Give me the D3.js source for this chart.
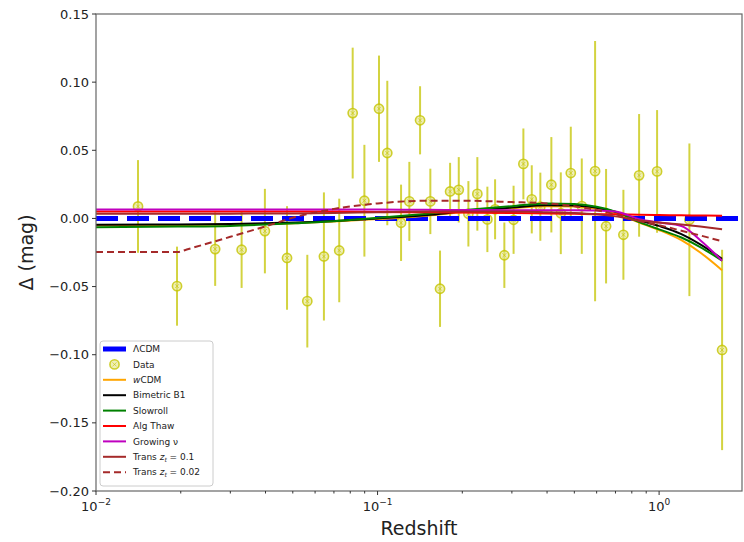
<!DOCTYPE html>
<html>
<head>
<meta charset="utf-8">
<script src="https://cdn.jsdelivr.net/npm/d3@7"></script>
<style>
  body { margin: 0; background: #fff; }
  svg { display: block; font-family: 'DejaVu Sans', sans-serif; }
</style>
</head>
<body>
<script>
// DATA POINTS //
const zData = [0.0141, 0.0194, 0.0265, 0.0329, 0.0398, 0.0477, 0.0563, 0.0645, 0.0731, 0.0816,
    0.0898, 0.1012, 0.1083, 0.1212, 0.1297, 0.1416, 0.1540, 0.1667, 0.1810, 0.1943,
    0.2102, 0.2262, 0.2455, 0.2615, 0.2821, 0.3042, 0.3296, 0.3530, 0.3786, 0.4143,
    0.4476, 0.4857, 0.5314, 0.5925, 0.6482, 0.7468, 0.8492, 0.9837, 1.2813, 1.674];
const deltaData = [0.0088, -0.0497, -0.0225, -0.023, -0.0093, -0.029, -0.0607, -0.0279, -0.0235, 0.0773,
    0.013, 0.0805, 0.048, -0.0032, 0.0125, 0.072, 0.0125, -0.0516, 0.0198, 0.021,
    0.0034, 0.018, -0.0007, 0.0067, -0.027, -0.001, 0.040, 0.014, 0.0086, 0.0247,
    0.0038, 0.0333, 0.009, 0.0347, -0.0057, -0.012, 0.0316, 0.0345, -0.001, -0.0965];
const errData = [0.034, 0.029, 0.027, 0.028, 0.031, 0.038, 0.034, 0.047, 0.038, 0.048,
    0.041, 0.039, 0.053, 0.028, 0.029, 0.025, 0.024, 0.028, 0.021, 0.024,
    0.024, 0.027, 0.024, 0.022, 0.024, 0.025, 0.026, 0.025, 0.025, 0.035,
    0.03, 0.034, 0.035, 0.0955, 0.042, 0.033, 0.045, 0.045, 0.056, 0.0735];

// MODEL CURVES //
const zLcdm = [0.01, 1.93];
const lcdm = [0, 0];
const zModel = [0.01, 0.0195, 0.03, 0.04, 0.051, 0.07, 0.1, 0.15, 0.2, 0.3,
    0.4, 0.5, 0.6, 0.7, 0.85, 1.0, 1.2, 1.4, 1.674];
const wcdm = [-0.005, -0.0048, -0.0045, -0.004, -0.0035, -0.0022, -0.0005, 0.002, 0.0045, 0.0075,
    0.009, 0.0088, 0.007, 0.0038, -0.003, -0.0085, -0.016, -0.025, -0.038];
const bimetric = [-0.0046, -0.0044, -0.004, -0.0035, -0.003, -0.0018, 0.0, 0.0025, 0.005, 0.008,
    0.0097, 0.0095, 0.0078, 0.0048, -0.0013, -0.0055, -0.0115, -0.019, -0.0296];
const slowroll = [-0.0064, -0.006, -0.0055, -0.0045, -0.0035, -0.002, 0.0005, 0.0035, 0.006, 0.009,
    0.011, 0.0105, 0.0085, 0.005, -0.0027, -0.008, -0.014, -0.021, -0.031];
const algThaw = [0.005, 0.005, 0.005, 0.005, 0.005, 0.005, 0.0048, 0.0045, 0.0043, 0.004,
    0.0037, 0.0034, 0.0031, 0.003, 0.0027, 0.0025, 0.0023, 0.0021, 0.002];
const growingNu = [0.0066, 0.0066, 0.0066, 0.0066, 0.0066, 0.0066, 0.0065, 0.0063, 0.0062, 0.006,
    0.006, 0.006, 0.0058, 0.005, -0.0005, -0.003, -0.0055, -0.016, -0.031];
const trans01 = [0.0034, 0.0034, 0.0035, 0.0036, 0.0037, 0.004, 0.0045, 0.005, 0.005, 0.005,
    0.0045, 0.004, 0.003, 0.0015, -0.0015, -0.003, -0.0045, -0.006, -0.008];
// z_t = 0.02 has its own grid (kink at the transition)
const zTrans = [0.01, 0.0195, 0.021, 0.03, 0.04, 0.051, 0.07, 0.1, 0.15, 0.2, 0.3,
    0.4, 0.5, 0.6, 0.7, 0.85, 1.0, 1.2, 1.4, 1.674];
const trans002 = [-0.0247, -0.0247, -0.0228, -0.0135, -0.0058, 0.001, 0.007, 0.011, 0.013, 0.013, 0.012,
    0.011, 0.009, 0.006, 0.003, -0.002, -0.005, -0.009, -0.0125, -0.0167];

const yTicks = [0.15, 0.10, 0.05, 0.00, -0.05, -0.10, -0.15, -0.20];
const xTicks = [0.01, 0.1, 1];
const xTickLabels = ['\u22122', '\u22121', '0'];

// Dimensions of the graph
const W = 744, H = 542;
const margin = { top: 14, right: 2, bottom: 51, left: 96 };
const width = W - margin.left - margin.right,
    height = H - margin.top - margin.bottom;

const svgRoot = d3.select('body').append('svg')
    .attr('width', W)
    .attr('height', H);

const svg = svgRoot.append('g')
    .attr('transform', `translate(${margin.left},${margin.top})`);

// SCALES
const x = d3.scaleLog().domain([0.01, 1.97]).range([0, width]);
const y = d3.scaleLinear().domain([-0.20, 0.15]).range([height, 0]);

// clip to plot area
svg.append('clipPath').attr('id', 'clip')
    .append('rect').attr('width', width).attr('height', height);
const plot = svg.append('g').attr('clip-path', 'url(#clip)');

const line = d3.line()
    .x(d => x(d[0]))
    .y(d => y(d[1]))
    .curve(d3.curveMonotoneX);

// ERROR BARS + DATA
const dataColor = '#c4c400';
const pts = zData.map((z, i) => ({ z: z, d: deltaData[i], e: errData[i] }));

plot.append('g')
    .selectAll('line')
    .data(pts)
    .join('line')
    .attr('x1', d => x(d.z))
    .attr('x2', d => x(d.z))
    .attr('y1', d => y(d.d + d.e))
    .attr('y2', d => y(d.d - d.e))
    .attr('stroke', dataColor)
    .attr('stroke-opacity', 0.75)
    .attr('stroke-width', 2);

function drawMarker(g, cx, cy) {
    g.append('circle')
        .attr('cx', cx).attr('cy', cy).attr('r', 4.6)
        .attr('fill', '#e4e488')
        .attr('fill-opacity', 0.6)
        .attr('stroke', dataColor)
        .attr('stroke-opacity', 0.8)
        .attr('stroke-width', 1.6);
    g.append('path')
        .attr('d', `M${cx - 2},${cy - 2}L${cx + 2},${cy + 2}M${cx - 2},${cy + 2}L${cx + 2},${cy - 2}`)
        .attr('stroke', dataColor)
        .attr('stroke-opacity', 0.6)
        .attr('stroke-width', 1);
}

const markers = plot.append('g');
pts.forEach(d => drawMarker(markers, x(d.z), y(d.d)));

// MODEL LINES
const series = [
    { name: 'wCDM', z: zModel, v: wcdm, color: '#ffa500', w: 2, dash: null },
    { name: 'Bimetric B1', z: zModel, v: bimetric, color: '#000000', w: 2, dash: null },
    { name: 'Slowroll', z: zModel, v: slowroll, color: '#008000', w: 2, dash: null },
    { name: 'Alg Thaw', z: zModel, v: algThaw, color: '#ff0000', w: 2, dash: null },
    { name: 'Growing \u03bd', z: zModel, v: growingNu, color: '#bf00bf', w: 2, dash: null },
    { name: 'Trans 0.1', z: zModel, v: trans01, color: '#a52a2a', w: 2, dash: null },
    { name: 'Trans 0.02', z: zTrans, v: trans002, color: '#a52a2a', w: 2, dash: '7,4' }
];

// LCDM drawn first, thick dashed blue
plot.append('path')
    .datum(zLcdm.map((z, i) => [z, lcdm[i]]))
    .attr('d', line)
    .attr('fill', 'none')
    .attr('stroke', '#0000ff')
    .attr('stroke-width', 5)
    .attr('stroke-dasharray', '22,9');

plot.selectAll('.model')
    .data(series)
    .join('path')
    .classed('model', true)
    .attr('d', s => line(s.z.map((z, i) => [z, s.v[i]])))
    .attr('fill', 'none')
    .attr('stroke', s => s.color)
    .attr('stroke-width', s => s.w)
    .attr('stroke-dasharray', s => s.dash);

// FRAME
svg.append('rect')
    .attr('width', width).attr('height', height)
    .attr('fill', 'none')
    .attr('stroke', '#666')
    .attr('stroke-width', 1.2);

// Y AXIS
const yAxis = svg.append('g');
yAxis.selectAll('line')
    .data(yTicks)
    .join('line')
    .attr('x1', -4).attr('x2', 0)
    .attr('y1', d => y(d)).attr('y2', d => y(d))
    .attr('stroke', '#333');
yAxis.selectAll('text')
    .data(yTicks)
    .join('text')
    .attr('x', -7)
    .attr('y', d => y(d))
    .attr('dy', '0.35em')
    .attr('text-anchor', 'end')
    .attr('font-size', 13)
    .attr('fill', '#222')
    .text(d => d3.format('.2f')(d));

// X AXIS (log, major + minor)
const minor = [];
[0.01, 0.1, 1].forEach(dec => {
    for (let k = 2; k <= 9; k++) if (dec * k <= 1.97) minor.push(dec * k);
});
const xAxis = svg.append('g').attr('transform', `translate(0,${height})`);
xAxis.selectAll('.minor')
    .data(minor)
    .join('line')
    .classed('minor', true)
    .attr('x1', d => x(d)).attr('x2', d => x(d))
    .attr('y1', 0).attr('y2', 2.5)
    .attr('stroke', '#333');
xAxis.selectAll('.major')
    .data(xTicks)
    .join('line')
    .classed('major', true)
    .attr('x1', d => x(d)).attr('x2', d => x(d))
    .attr('y1', 0).attr('y2', 4)
    .attr('stroke', '#333');
const xl = xAxis.selectAll('.xlab')
    .data(xTicks)
    .join('text')
    .classed('xlab', true)
    .attr('x', d => x(d))
    .attr('y', 20)
    .attr('text-anchor', 'middle')
    .attr('font-size', 13)
    .attr('fill', '#222');
xl.append('tspan').text('10');
xl.append('tspan')
    .attr('dy', -6)
    .attr('font-size', 9)
    .text((d, i) => xTickLabels[i]);

// AXIS LABELS
svgRoot.append('text')
    .attr('x', margin.left + width / 2)
    .attr('y', 535)
    .attr('text-anchor', 'middle')
    .attr('font-size', 19)
    .attr('fill', '#222')
    .text('Redshift');
svgRoot.append('text')
    .attr('transform', `translate(33,${margin.top + height / 2}) rotate(-90)`)
    .attr('text-anchor', 'middle')
    .attr('font-size', 19)
    .attr('fill', '#222')
    .text('\u0394 (mag)');

// LEGEND
const legend = svgRoot.append('g').attr('transform', 'translate(100,341)');
legend.append('rect')
    .attr('width', 113).attr('height', 145)
    .attr('rx', 3)
    .attr('fill', '#fff')
    .attr('fill-opacity', 0.85)
    .attr('stroke', '#ccc');

const legendRows = [{ name: '\u039bCDM', color: '#0000ff', w: 5, dash: null, type: 'line' },
    { name: 'Data', type: 'marker' }].concat(series.map(s => Object.assign({ type: 'line' }, s)));

const rows = legend.selectAll('g.row')
    .data(legendRows)
    .join('g')
    .attr('class', 'row')
    .attr('transform', (d, i) => `translate(0,${8 + i * 15.4})`);

rows.filter(d => d.type === 'line')
    .append('line')
    .attr('x1', 3).attr('x2', 26)
    .attr('y1', 0).attr('y2', 0)
    .attr('stroke', d => d.color)
    .attr('stroke-width', d => d.w)
    .attr('stroke-dasharray', d => d.dash);

rows.filter(d => d.type === 'marker')
    .each(function () { drawMarker(d3.select(this), 14.5, 0); });

const lt = rows.append('text')
    .attr('x', 33)
    .attr('y', 0)
    .attr('dy', '0.35em')
    .attr('font-size', 9)
    .attr('fill', '#222');

lt.each(function (d) {
    const t = d3.select(this);
    if (d.name.startsWith('Trans')) {
        t.append('tspan').text('Trans ');
        t.append('tspan').attr('font-style', 'italic').text('z');
        t.append('tspan').attr('font-style', 'italic').attr('font-size', 6).attr('dy', 2).text('t');
        t.append('tspan').attr('dy', -2).text(' = ' + d.name.split(' ')[1]);
    } else if (d.name === 'wCDM') {
        t.append('tspan').attr('font-style', 'italic').text('w');
        t.append('tspan').text('CDM');
    } else {
        t.text(d.name);
    }
});
</script>
</body>
</html>
